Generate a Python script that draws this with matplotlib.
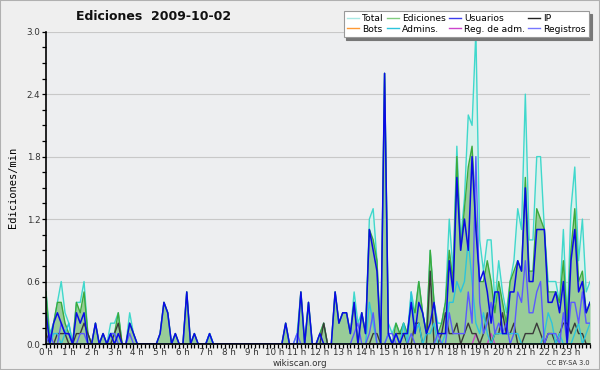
import numpy as np
import matplotlib
matplotlib.use("Agg")
import matplotlib.pyplot as plt
from matplotlib.lines import Line2D

# 10-minute bins over the day (edits per minute)
hours = np.arange(144) / 6.0
hour_labels = ["%d h" % h for h in range(24)]

total = [
    0.5, 0.1, 0.2, 0.4, 0.6, 0.3,   0.2, 0.0, 0.4, 0.4, 0.6, 0.1,
    0.0, 0.2, 0.0, 0.1, 0.0, 0.2,   0.2, 0.3, 0.0, 0.0, 0.3, 0.1,
    0.0, 0.0, 0.0, 0.0, 0.0, 0.0,   0.1, 0.4, 0.3, 0.0, 0.1, 0.0,
    0.0, 0.5, 0.0, 0.1, 0.0, 0.0,   0.0, 0.1, 0.0, 0.0, 0.0, 0.0,
    0.0, 0.0, 0.0, 0.0, 0.0, 0.0,   0.0, 0.0, 0.0, 0.0, 0.0, 0.0,
    0.0, 0.0, 0.0, 0.2, 0.0, 0.0,   0.1, 0.5, 0.0, 0.4, 0.0, 0.0,
    0.1, 0.2, 0.0, 0.0, 0.5, 0.2,   0.3, 0.3, 0.1, 0.5, 0.2, 0.3,
    0.1, 1.2, 1.3, 0.8, 0.0, 2.6,   0.2, 0.1, 0.2, 0.1, 0.2, 0.1,
    0.5, 0.3, 0.6, 0.3, 0.1, 0.9,   0.4, 0.2, 0.2, 0.4, 1.2, 0.7,
    1.9, 1.0, 1.4, 2.2, 2.1, 3.0,   1.0, 0.7, 1.0, 1.0, 0.4, 0.8,
    0.5, 0.3, 0.6, 0.8, 1.3, 1.1,   2.4, 1.0, 1.0, 1.8, 1.8, 1.1,
    0.6, 0.6, 0.6, 0.4, 1.1, 0.2,   1.3, 1.7, 0.8, 1.2, 0.5, 0.6,
]
ediciones = [
    0.5, 0.0, 0.2, 0.4, 0.4, 0.2,   0.1, 0.0, 0.4, 0.3, 0.5, 0.1,
    0.0, 0.2, 0.0, 0.1, 0.0, 0.1,   0.1, 0.3, 0.0, 0.0, 0.2, 0.1,
    0.0, 0.0, 0.0, 0.0, 0.0, 0.0,   0.1, 0.4, 0.3, 0.0, 0.1, 0.0,
    0.0, 0.5, 0.0, 0.1, 0.0, 0.0,   0.0, 0.1, 0.0, 0.0, 0.0, 0.0,
    0.0, 0.0, 0.0, 0.0, 0.0, 0.0,   0.0, 0.0, 0.0, 0.0, 0.0, 0.0,
    0.0, 0.0, 0.0, 0.2, 0.0, 0.0,   0.0, 0.5, 0.0, 0.4, 0.0, 0.0,
    0.1, 0.2, 0.0, 0.0, 0.5, 0.2,   0.3, 0.3, 0.1, 0.4, 0.0, 0.3,
    0.1, 1.1, 1.0, 0.8, 0.0, 2.6,   0.1, 0.0, 0.2, 0.1, 0.2, 0.1,
    0.4, 0.3, 0.6, 0.3, 0.1, 0.9,   0.4, 0.1, 0.2, 0.4, 0.9, 0.6,
    1.8, 0.9, 1.3, 1.7, 1.9, 1.2,   0.6, 0.6, 0.8, 0.6, 0.3, 0.6,
    0.4, 0.2, 0.6, 0.7, 0.8, 0.7,   1.6, 0.7, 0.7, 1.3, 1.2, 1.1,
    0.5, 0.5, 0.5, 0.4, 0.8, 0.2,   0.9, 1.3, 0.6, 0.7, 0.3, 0.4,
]
usuarios = [
    0.3, 0.0, 0.2, 0.3, 0.2, 0.1,   0.1, 0.0, 0.3, 0.2, 0.3, 0.0,
    0.0, 0.2, 0.0, 0.1, 0.0, 0.1,   0.0, 0.1, 0.0, 0.0, 0.2, 0.1,
    0.0, 0.0, 0.0, 0.0, 0.0, 0.0,   0.1, 0.4, 0.3, 0.0, 0.1, 0.0,
    0.0, 0.5, 0.0, 0.1, 0.0, 0.0,   0.0, 0.1, 0.0, 0.0, 0.0, 0.0,
    0.0, 0.0, 0.0, 0.0, 0.0, 0.0,   0.0, 0.0, 0.0, 0.0, 0.0, 0.0,
    0.0, 0.0, 0.0, 0.2, 0.0, 0.0,   0.0, 0.5, 0.0, 0.4, 0.0, 0.0,
    0.1, 0.0, 0.0, 0.0, 0.5, 0.2,   0.3, 0.3, 0.1, 0.4, 0.0, 0.3,
    0.1, 1.1, 0.9, 0.7, 0.0, 2.6,   0.1, 0.0, 0.1, 0.0, 0.1, 0.1,
    0.4, 0.1, 0.4, 0.3, 0.1, 0.2,   0.4, 0.1, 0.1, 0.1, 0.8, 0.5,
    1.6, 0.9, 1.2, 0.9, 1.8, 1.1,   0.6, 0.7, 0.5, 0.2, 0.5, 0.5,
    0.1, 0.1, 0.5, 0.5, 0.8, 0.7,   1.5, 0.6, 0.6, 1.1, 1.1, 1.1,
    0.4, 0.4, 0.5, 0.3, 0.6, 0.0,   0.8, 1.1, 0.5, 0.6, 0.3, 0.4,
]
ip = [
    0.1, 0.0, 0.0, 0.1, 0.1, 0.1,   0.0, 0.0, 0.1, 0.1, 0.2, 0.1,
    0.0, 0.0, 0.0, 0.0, 0.0, 0.0,   0.1, 0.2, 0.0, 0.0, 0.0, 0.0,
    0.0, 0.0, 0.0, 0.0, 0.0, 0.0,   0.0, 0.0, 0.0, 0.0, 0.0, 0.0,
    0.0, 0.0, 0.0, 0.0, 0.0, 0.0,   0.0, 0.0, 0.0, 0.0, 0.0, 0.0,
    0.0, 0.0, 0.0, 0.0, 0.0, 0.0,   0.0, 0.0, 0.0, 0.0, 0.0, 0.0,
    0.0, 0.0, 0.0, 0.0, 0.0, 0.0,   0.0, 0.0, 0.0, 0.0, 0.0, 0.0,
    0.0, 0.2, 0.0, 0.0, 0.0, 0.0,   0.0, 0.0, 0.0, 0.0, 0.0, 0.0,
    0.0, 0.0, 0.1, 0.1, 0.0, 0.0,   0.0, 0.0, 0.1, 0.1, 0.1, 0.0,
    0.0, 0.2, 0.2, 0.0, 0.0, 0.7,   0.0, 0.0, 0.1, 0.3, 0.1, 0.1,
    0.2, 0.0, 0.1, 0.2, 0.1, 0.1,   0.0, 0.1, 0.3, 0.0, 0.1, 0.1,
    0.3, 0.1, 0.1, 0.2, 0.0, 0.0,   0.1, 0.1, 0.1, 0.2, 0.1, 0.0,
    0.1, 0.1, 0.0, 0.1, 0.2, 0.2,   0.1, 0.2, 0.1, 0.1, 0.0, 0.0,
]
registros = [
    0.0, 0.1, 0.0, 0.0, 0.2, 0.1,   0.1, 0.0, 0.0, 0.1, 0.1, 0.0,
    0.0, 0.0, 0.0, 0.0, 0.0, 0.1,   0.1, 0.0, 0.0, 0.0, 0.1, 0.0,
    0.0, 0.0, 0.0, 0.0, 0.0, 0.0,   0.0, 0.0, 0.0, 0.0, 0.0, 0.0,
    0.0, 0.0, 0.0, 0.0, 0.0, 0.0,   0.0, 0.0, 0.0, 0.0, 0.0, 0.0,
    0.0, 0.0, 0.0, 0.0, 0.0, 0.0,   0.0, 0.0, 0.0, 0.0, 0.0, 0.0,
    0.0, 0.0, 0.0, 0.0, 0.0, 0.0,   0.1, 0.0, 0.0, 0.0, 0.0, 0.0,
    0.0, 0.0, 0.0, 0.0, 0.0, 0.0,   0.0, 0.0, 0.0, 0.1, 0.2, 0.0,
    0.0, 0.1, 0.3, 0.0, 0.0, 0.0,   0.1, 0.1, 0.0, 0.0, 0.0, 0.0,
    0.1, 0.0, 0.0, 0.0, 0.0, 0.0,   0.0, 0.1, 0.0, 0.0, 0.3, 0.1,
    0.1, 0.1, 0.1, 0.5, 0.2, 1.8,   0.4, 0.1, 0.2, 0.4, 0.1, 0.2,
    0.1, 0.2, 0.0, 0.1, 0.5, 0.4,   0.8, 0.3, 0.3, 0.5, 0.6, 0.0,
    0.1, 0.1, 0.1, 0.0, 0.3, 0.0,   0.4, 0.4, 0.2, 0.5, 0.2, 0.2,
]
admins = [
    0.0, 0.0, 0.1, 0.1, 0.0, 0.1,   0.2, 0.0, 0.0, 0.0, 0.0, 0.0,
    0.0, 0.0, 0.0, 0.0, 0.0, 0.1,   0.1, 0.0, 0.0, 0.0, 0.0, 0.0,
    0.0, 0.0, 0.0, 0.0, 0.0, 0.0,   0.0, 0.0, 0.0, 0.0, 0.0, 0.0,
    0.0, 0.0, 0.0, 0.0, 0.0, 0.0,   0.0, 0.1, 0.0, 0.0, 0.0, 0.0,
    0.0, 0.0, 0.0, 0.0, 0.0, 0.0,   0.0, 0.0, 0.0, 0.0, 0.0, 0.0,
    0.0, 0.0, 0.0, 0.0, 0.0, 0.0,   0.0, 0.0, 0.0, 0.0, 0.0, 0.0,
    0.0, 0.0, 0.0, 0.0, 0.0, 0.0,   0.0, 0.0, 0.0, 0.0, 0.0, 0.0,
    0.0, 0.4, 0.2, 0.0, 0.0, 0.0,   0.1, 0.0, 0.1, 0.0, 0.2, 0.0,
    0.5, 0.1, 0.2, 0.0, 0.1, 0.1,   0.2, 0.0, 0.0, 0.1, 0.4, 0.4,
    0.6, 0.5, 0.6, 1.0, 0.6, 0.2,   0.1, 0.3, 0.1, 0.0, 0.1, 0.1,
    0.1, 0.1, 0.1, 0.1, 0.1, 0.0,   0.0, 0.0, 0.0, 0.0, 0.0, 0.1,
    0.3, 0.2, 0.0, 0.1, 0.0, 0.0,   0.0, 0.1, 0.2, 0.0, 0.1, 0.2,
]
reg_adm = [0.0] * 113 + [0.1, 0.0, 0.0, 0.0, 0.1] + [0.0] * 26
bots = [0.0] * 144

c_total = "#40d8cc"
c_edit = "#3caa3c"
c_user = "#0a0ae6"
c_ip = "#3a3a3a"
c_bots = "#ff9933"
c_admin = "#2cc4dc"
c_regadm = "#cc44cc"
c_reg = "#5a5aff"

fig = plt.figure(figsize=(6, 3.7), dpi=100, facecolor="#efefef")
ax = fig.add_axes([46 / 600, 1 - 344 / 370, 544 / 600, (344 - 31.7) / 370])
ax.set_facecolor("#edeef0")

ax.fill_between(hours, total, color="#d9f1ec", lw=0, zorder=1)
ax.fill_between(hours, ediciones, color="#98cc98", lw=0, zorder=2)
ax.plot(hours, total, color=c_total, lw=1.0, zorder=3)
ax.plot(hours, ediciones, color=c_edit, lw=1.0, zorder=3)
ax.plot(hours, bots, color=c_bots, lw=1.0, zorder=3)
ax.plot(hours, reg_adm, color=c_regadm, lw=1.0, zorder=3)
ax.plot(hours, ip, color=c_ip, lw=1.0, zorder=4)
ax.plot(hours, admins, color=c_admin, lw=1.0, zorder=4)
ax.plot(hours, registros, color=c_reg, lw=1.0, zorder=4)
ax.plot(hours, usuarios, color=c_user, lw=1.1, zorder=5)

ax.set_xlim(0, hours[-1])
ax.set_ylim(0, 3.0)
ax.set_yticks(np.arange(0, 3.01, 0.6))
ax.set_yticklabels(["%.1f" % v for v in np.arange(0, 3.01, 0.6)])
ax.set_yticks(np.arange(0, 3.01, 0.15), minor=True)
ax.set_xticks(range(24))
ax.set_xticklabels(hour_labels)
ax.set_xticks(hours, minor=True)
ax.grid(axis="y", color="#c8c8c8", lw=0.8, zorder=0)
ax.set_axisbelow(True)

for s in ["top", "right"]:
    ax.spines[s].set_visible(False)
for s in ["left", "bottom"]:
    ax.spines[s].set_color("black")
    ax.spines[s].set_linewidth(1.2)
    ax.spines[s].set_zorder(10)
ax.tick_params(which="both", direction="out", length=3, width=0.9, color="black",
               labelsize=6.3, labelcolor="#333333", pad=1)
ax.tick_params(axis="x", pad=0)

ax.set_ylabel("Ediciones/min", family="DejaVu Sans Mono", fontsize=7.5, labelpad=6)

fig.text(154 / 600, 1 - 16 / 370, "Ediciones  2009-10-02", ha="center", va="center",
         fontsize=9, fontweight="bold", color="#111111")
fig.text(300 / 600, 1 - 363 / 370, "wikiscan.org", ha="center", va="center", fontsize=6.3,
         color="#333333")
fig.text(590 / 600, 1 - 363 / 370, "CC BY-SA 3.0", ha="right", va="center", fontsize=4.8,
         color="#333333")

names = ["Total", "Bots", "Ediciones", "Admins.", "Usuarios", "Reg. de adm.", "IP", "Registros"]
cols = ["#a8e8e4", c_bots, "#80cc80", c_admin, "#3c3cee", c_regadm, "#222222", "#7777ff"]
handles = [Line2D([], [], color=c, lw=1.0) for c in cols]
leg = fig.legend(handles, names, ncol=4, loc="upper right",
                 bbox_to_anchor=(589 / 600, 1 - 11 / 370), fontsize=6.6,
                 frameon=True, fancybox=False, shadow={"color": "#777777", "alpha": 1.0},
                 handlelength=1.3, handletextpad=0.35, columnspacing=0.35,
                 labelspacing=0.15, borderpad=0.35, borderaxespad=0)
leg.get_frame().set_edgecolor("#999999")
leg.get_frame().set_facecolor("white")
leg.get_frame().set_linewidth(0.8)

fig.patches.append(plt.Rectangle((0, 0), 1, 1, transform=fig.transFigure, fill=False,
                                 edgecolor="#b0b0b0", lw=1.5))

fig.savefig("out.png", dpi=100, facecolor=fig.get_facecolor())
